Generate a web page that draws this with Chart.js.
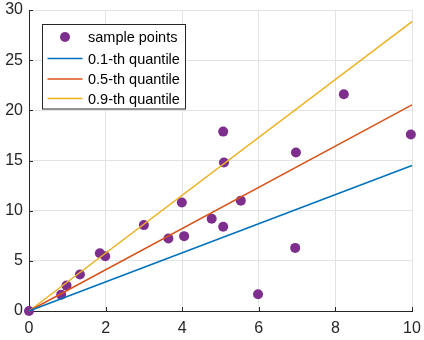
<!DOCTYPE html>
<html>
<head>
<meta charset="utf-8">
<script src="https://cdn.jsdelivr.net/npm/chart.js@4/dist/chart.umd.min.js"></script>
<style>
html,body{margin:0;padding:0;background:#fff;}
canvas{display:block;}
</style>
</head>
<body>
<canvas id="c" width="424" height="340"></canvas>
<script>
// ---- data ----
const sampleX = [0, 0.84, 0.98, 1.33, 1.85, 1.99, 3.0, 3.64, 3.99, 4.05, 4.77, 5.07, 5.07, 5.09, 5.53, 5.98, 6.97, 6.95, 8.22, 9.97];
const sampleY = [0, 1.63, 2.53, 3.63, 5.76, 5.46, 8.56, 7.22, 10.82, 7.46, 9.2, 8.39, 17.88, 14.8, 11.0, 1.67, 15.8, 6.29, 21.6, 17.6];
const quantileLabels = ['0.1-th quantile', '0.5-th quantile', '0.9-th quantile'];
const quantileStartX = [0, 0, 0];
const quantileStartY = [0, 0, 0];
const quantileEndX = [10, 10, 10];
const quantileEndY = [14.5, 20.55, 28.84];
const quantileColors = ['#0072BD', '#D95319', '#EDB120'];
const pointLabel = 'sample points';
const pointColor = '#7E2F8E';
const xTicks = [0, 2, 4, 6, 8, 10];
const yTicks = [0, 5, 10, 15, 20, 25, 30];

const AX = '#262626';
const FONT = '"Liberation Sans", Arial, Helvetica, sans-serif';

const datasets = [];
quantileLabels.forEach((lab, i) => {
  datasets.push({
    type: 'line',
    label: lab,
    data: [{x: quantileStartX[i], y: quantileStartY[i]}, {x: quantileEndX[i], y: quantileEndY[i]}],
    borderColor: quantileColors[i],
    backgroundColor: quantileColors[i],
    borderWidth: 1.5,
    pointRadius: 0,
    fill: false,
    tension: 0,
    clip: false,
    order: i + 1
  });
});
datasets.push({
  type: 'scatter',
  label: pointLabel,
  data: sampleX.map((x, i) => ({x: x, y: sampleY[i]})),
  backgroundColor: pointColor,
  borderColor: pointColor,
  pointRadius: 5,
  pointBorderWidth: 0,
  clip: false,
  order: 10
});

const innerTicks = {
  id: 'innerTicks',
  beforeDatasetsDraw(chart) {
    const ctx = chart.ctx, a = chart.chartArea;
    const xs = chart.scales.x, ys = chart.scales.y;
    ctx.save();
    ctx.strokeStyle = AX;
    ctx.lineWidth = 1;
    ctx.beginPath();
    xTicks.forEach(v => {
      const p = Math.round(xs.getPixelForValue(v)) + 0.5;
      ctx.moveTo(p, a.bottom);
      ctx.lineTo(p, a.bottom - 4);
    });
    yTicks.forEach(v => {
      const p = Math.round(ys.getPixelForValue(v)) + 0.5;
      ctx.moveTo(a.left, p);
      ctx.lineTo(a.left + 4, p);
    });
    ctx.stroke();
    ctx.restore();
  }
};

const boxLegend = {
  id: 'boxLegend',
  afterDraw(chart) {
    const ctx = chart.ctx;
    const L = 42.5, T = 24.5, W = 143, H = 84.5;
    ctx.save();
    ctx.fillStyle = '#fff';
    ctx.fillRect(L, T, W, H);
    ctx.strokeStyle = AX;
    ctx.lineWidth = 1;
    ctx.strokeRect(L, T, W, H);
    ctx.font = '14.5px ' + FONT;
    ctx.textBaseline = 'middle';
    ctx.fillStyle = '#000';
    const rows = [37, 58.5, 79, 98.5];
    ctx.beginPath();
    ctx.fillStyle = pointColor;
    ctx.arc(65, rows[0], 5, 0, Math.PI * 2);
    ctx.fill();
    ctx.fillStyle = '#000';
    ctx.fillText(pointLabel, 88, rows[0] + 1);
    quantileLabels.forEach((lab, i) => {
      const y = rows[i + 1];
      ctx.strokeStyle = quantileColors[i];
      ctx.lineWidth = 1.5;
      ctx.beginPath();
      ctx.moveTo(47.5, y);
      ctx.lineTo(82.5, y);
      ctx.stroke();
      ctx.fillStyle = '#000';
      ctx.fillText(lab, 88, y + 1);
    });
    ctx.restore();
  }
};

new Chart(document.getElementById('c'), {
  data: { datasets: datasets },
  options: {
    responsive: false,
    animation: false,
    layout: { autoPadding: false, padding: { top: 10, right: 12, left: 0, bottom: 0 } },
    plugins: { legend: { display: false }, tooltip: { enabled: false } },
    scales: {
      x: {
        type: 'linear',
        min: 0, max: 10,
        afterBuildTicks(s) { s.ticks = xTicks.map(v => ({value: v})); },
        afterFit(s) { s.height = 29; s.paddingLeft = 0; s.paddingRight = 0; },
        ticks: { color: AX, font: { family: FONT, size: 16 }, padding: 8, maxRotation: 0 },
        grid: { color: '#e3e3e3', drawTicks: false, lineWidth: 1 },
        border: { display: true, color: AX, width: 1 }
      },
      y: {
        type: 'linear',
        min: 0, max: 30,
        afterBuildTicks(s) { s.ticks = yTicks.map(v => ({value: v})); },
        afterFit(s) { s.width = 29; s.paddingTop = 0; s.paddingBottom = 0; },
        ticks: { color: AX, font: { family: FONT, size: 16 }, padding: 6 },
        grid: { color: '#e3e3e3', drawTicks: false, lineWidth: 1 },
        border: { display: true, color: AX, width: 1 }
      }
    }
  },
  plugins: [innerTicks, boxLegend]
});
</script>
</body>
</html>
